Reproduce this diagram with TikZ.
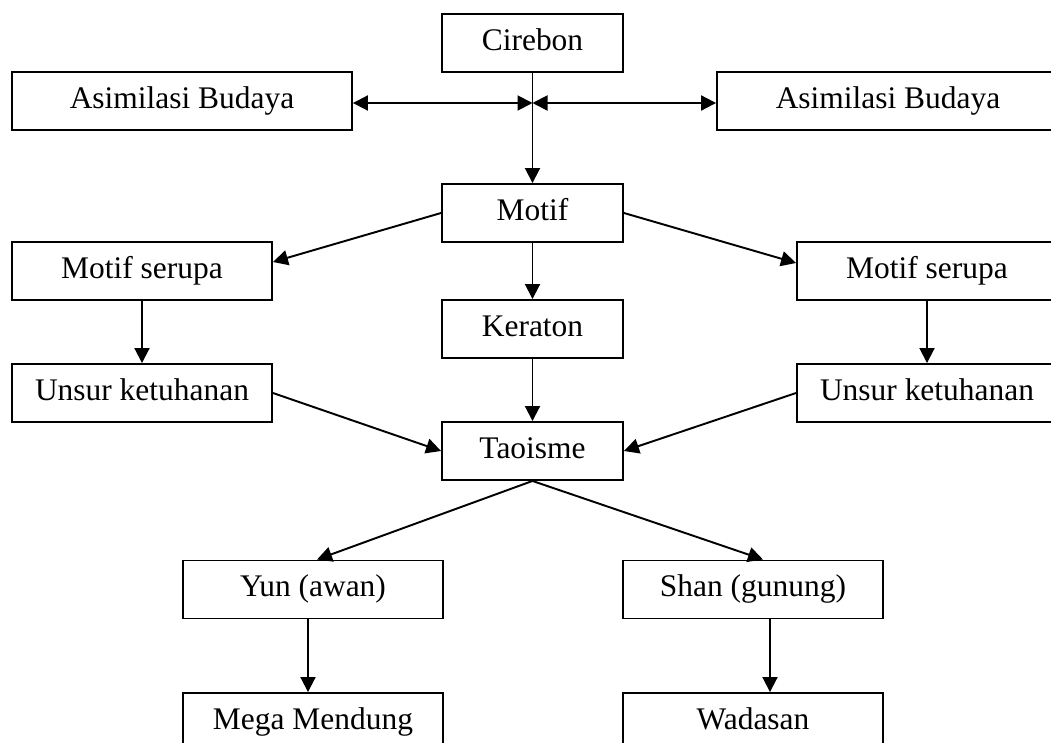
\documentclass[tikz,border=0pt]{standalone}
\usepackage{fontspec}
\setmainfont{Liberation Serif}
\usepackage{tikz}
\usetikzlibrary{arrows.meta}

\begin{document}
\begin{tikzpicture}[x=0.02cm, y=-0.02cm, line width=1.1pt,
    box/.style={draw, rectangle, minimum height=1.16cm, inner sep=0pt,
                text height=0.8em, text depth=0em,
                font=\fontsize{17.9}{21}\selectfont},
    boxS/.style={box, minimum width=3.62cm},
    boxW/.style={box, minimum width=5.2cm},
    arr/.style={-{Triangle[length=0.3cm, width=0.3cm]}},
    darr/.style={{Triangle[length=0.3cm, width=0.3cm]}-{Triangle[length=0.3cm, width=0.3cm]}}]
      \useasboundingbox (0, 0) rectangle (1051, 743);

      \node[boxS](Cirebon) at (532.5, 43) {Cirebon};
        \node[box, minimum width=6.8cm](AsimL) at (182, 101) {Asimilasi Budaya};
        \node[box, minimum width=6.84cm](AsimR) at (888, 101) {Asimilasi Budaya};
        \coordinate(Hub) at (Cirebon.south |- 0, 103);
      \node[boxS](Motif) at (532.5, 213) {Motif};
        \node[boxW](SerupaL) at (142, 271) {Motif serupa};
          \node[boxW](UnsurL) at (142, 393) {Unsur ketuhanan};
        \node[boxS](Keraton) at (532.5, 329) {Keraton};
        \node[boxW](SerupaR) at (927, 271) {Motif serupa};
          \node[boxW](UnsurR) at (927, 393) {Unsur ketuhanan};
      \node[boxS](Taoisme) at (532.5, 451) {Taoisme};
        \node[boxW](Yun) at (313, 589.5) {Yun (awan)};
          \node[boxW](Mega) at (313, 722) {Mega Mendung};
        \node[boxW](Shan) at (753, 589.5) {Shan (gunung)};
          \node[boxW](Wadasan) at (753, 722) {Wadasan};

      \draw[arr] (Cirebon) -- (Motif);
      \draw[darr] (Hub) -- (AsimL.east |- Hub);
      \draw[darr] (Hub) -- (AsimR.west |- Hub);
      \draw[arr] (Motif.west) -- ([yshift=0.18cm]SerupaL.east);
      \draw[arr] (Motif.east) -- ([yshift=0.16cm]SerupaR.west);
      \draw[arr] (Motif) -- (Keraton);
      \draw[arr] (SerupaL) -- (UnsurL);
      \draw[arr] (SerupaR) -- (UnsurR);
      \draw[arr] (Keraton) -- (Taoisme);
      \draw[arr] (UnsurL.east) -- (Taoisme.west);
      \draw[arr] (UnsurR.west) -- (Taoisme.east);
      \draw[arr] (Taoisme.south) -- ([xshift=0.08cm]Yun.north);
      \draw[arr] (Taoisme.south) -- ([xshift=0.2cm]Shan.north);
      \draw[arr] ([xshift=-0.1cm]Yun.south) -- ([xshift=-0.1cm]Mega.north);
      \draw[arr] ([xshift=0.34cm]Shan.south) -- ([xshift=0.34cm]Wadasan.north);
    \end{tikzpicture}
\end{document}
